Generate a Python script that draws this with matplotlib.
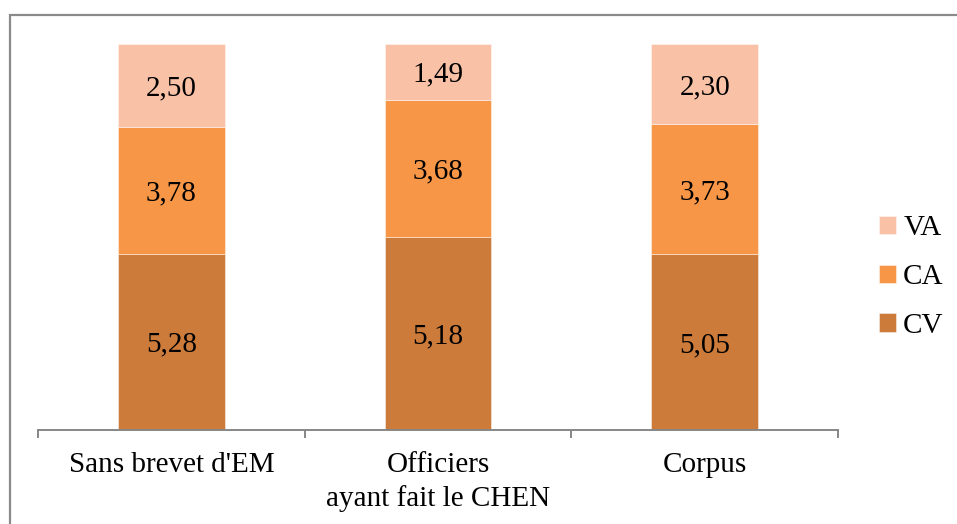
import matplotlib
matplotlib.use("Agg")
import matplotlib.pyplot as plt
from matplotlib.patches import Rectangle
import numpy as np

categories = ["Sans brevet d'EM", "Officiers\nayant fait le CHEN", "Corpus"]
series_names = ["CV", "CA", "VA"]
cv = [5.28, 5.18, 5.05]
ca = [3.78, 3.68, 3.73]
va = [2.50, 1.49, 2.30]
colors = ["#CC7B3A", "#F79646", "#F9C2A7"]

plt.rcParams['font.family'] = ['Liberation Serif', 'DejaVu Serif']
FS = 21

fig = plt.figure(figsize=(9.57, 5.24), dpi=100)
W, H = 957, 524
ax = fig.add_axes([38 / W, 1 - 430 / H, (838 - 38) / W, (430 - 44) / H])

data = np.array([cv, ca, va])
totals = data.sum(axis=0)
shares = data / totals
x = np.arange(len(categories))
bottom = np.zeros(len(categories))
for i, name in enumerate(series_names):
    bars = ax.bar(x, shares[i], 0.4, bottom=bottom, color=colors[i], label=name,
                  edgecolor=(1, 1, 1, 0.5), linewidth=0.6)
    for xi, b, s, v in zip(x, bottom, shares[i], data[i]):
        ax.text(xi, b + s / 2, f"{v:.2f}".replace('.', ','), ha='center', va='center_baseline',
                fontsize=FS, color='black')
    bottom += shares[i]

ax.set_xlim(-0.5, 2.5)
ax.set_ylim(0, 1)
for s in ['top', 'right', 'left']:
    ax.spines[s].set_visible(False)
ax.spines['bottom'].set_color('#878787')
ax.spines['bottom'].set_linewidth(1.4)
ax.set_yticks([])
ax.set_xticks(x)
ax.set_xticklabels(categories, fontsize=FS, linespacing=1.36)
ax.tick_params(axis='x', which='major', length=0, pad=15.5)
ax.set_xticks([-0.5, 0.5, 1.5, 2.5], minor=True)
ax.tick_params(axis='x', which='minor', length=6, width=1.4, color='#878787', direction='out')

handles, labels = ax.get_legend_handles_labels()
leg = fig.legend(handles[::-1], labels[::-1], loc='center left',
                 bbox_to_anchor=(879 / W, 1 - 277 / H), frameon=False, fontsize=FS,
                 handlelength=0.58, handleheight=0.58, handletextpad=0.25,
                 labelspacing=0.78, borderpad=0, borderaxespad=0)

# outer chart border (top and left visible)
fig.patches.append(Rectangle((9.5 / W, -0.1), 1.2, 1.1 - 14.5 / H,
                             transform=fig.transFigure, fill=False,
                             edgecolor='#8a8a8a', linewidth=1.6, zorder=10))

fig.savefig("out.png", dpi=100)
